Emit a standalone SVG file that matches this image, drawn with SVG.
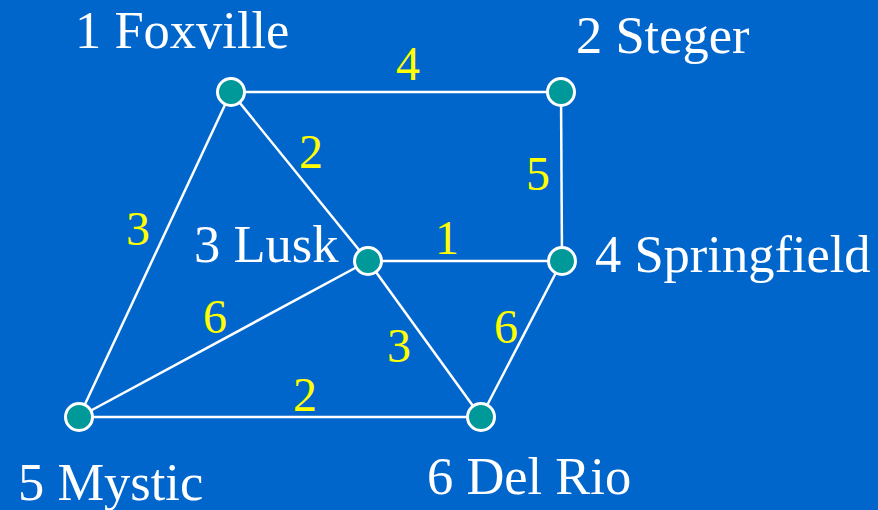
<svg xmlns="http://www.w3.org/2000/svg" width="878" height="510" viewBox="0 0 878 510">
<style>
.bg{fill:#0066cc}
.e{stroke:#ffffff;stroke-width:2.5;fill:none}
.n{fill:#009999;stroke:#ffffff;stroke-width:3}
.lbl{font-family:"Liberation Serif","Times New Roman",serif;font-size:52.5px;fill:#ffffff}
.w{font-family:"Liberation Serif","Times New Roman",serif;font-size:48px;fill:#ffff00;text-anchor:middle}
</style>
<rect class="bg" x="0" y="0" width="878" height="510"/>
<g id="edges">
<line class="e" x1="231" y1="92" x2="561" y2="92"/>
<line class="e" x1="561" y1="92" x2="562" y2="261"/>
<line class="e" x1="231" y1="92" x2="368" y2="261"/>
<line class="e" x1="231" y1="92" x2="79" y2="417"/>
<line class="e" x1="368" y1="261" x2="562" y2="261"/>
<line class="e" x1="368" y1="261" x2="79" y2="417"/>
<line class="e" x1="368" y1="261" x2="481" y2="417"/>
<line class="e" x1="562" y1="261" x2="481" y2="417"/>
<line class="e" x1="79" y1="417" x2="481" y2="417"/>
<text class="w" x="408" y="80">4</text>
<text class="w" x="538" y="190">5</text>
<text class="w" x="311" y="168">2</text>
<text class="w" x="138" y="245">3</text>
<text class="w" x="447" y="254">1</text>
<text class="w" x="215" y="333">6</text>
<text class="w" x="399" y="362">3</text>
<text class="w" x="506" y="343">6</text>
<text class="w" x="305" y="411">2</text>
</g>
<g id="n1"><circle class="n" cx="231" cy="92" r="13.5"/><text class="lbl" x="75" y="48">1 Foxville</text></g>
<g id="n2"><circle class="n" cx="561" cy="92" r="13.5"/><text class="lbl" x="576" y="53">2 Steger</text></g>
<g id="n3"><circle class="n" cx="368" cy="261" r="13.5"/><text class="lbl" x="194" y="262">3 Lusk</text></g>
<g id="n4"><circle class="n" cx="562" cy="261" r="13.5"/><text class="lbl" x="595" y="272">4 Springfield</text></g>
<g id="n5"><circle class="n" cx="79" cy="417" r="13.5"/><text class="lbl" x="18" y="500">5 Mystic</text></g>
<g id="n6"><circle class="n" cx="481" cy="417" r="13.5"/><text class="lbl" x="427" y="494">6 Del Rio</text></g>
</svg>
